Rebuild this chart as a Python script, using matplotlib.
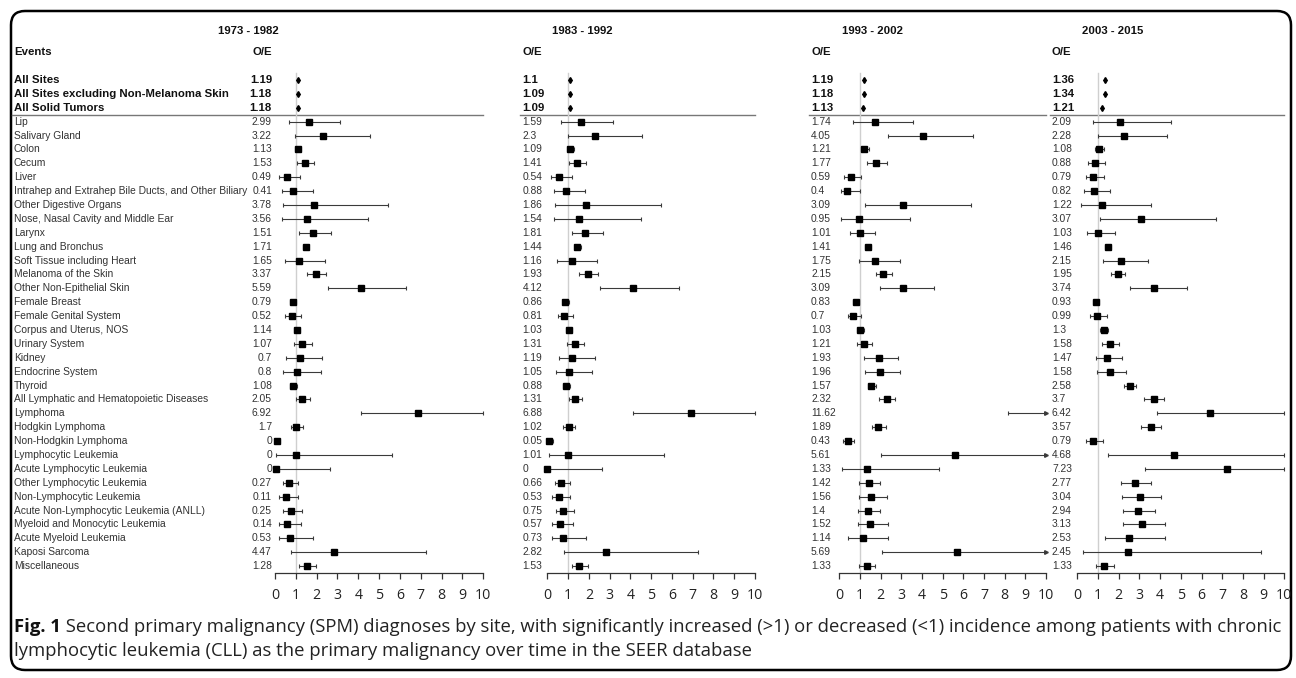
import matplotlib
matplotlib.use("Agg")
import matplotlib.pyplot as plt
from matplotlib.patches import FancyBboxPatch
from matplotlib.transforms import blended_transform_factory
import numpy as np

# ---------------- data ----------------
periods = ["1973 - 1982", "1983 - 1992", "1993 - 2002", "2003 - 2015"]

summary_labels = ["All Sites", "All Sites excluding Non-Melanoma Skin", "All Solid Tumors"]
site_labels = [
    "Lip", "Salivary Gland", "Colon", "Cecum", "Liver",
    "Intrahep and Extrahep Bile Ducts, and Other Biliary", "Other Digestive Organs",
    "Nose, Nasal Cavity and Middle Ear", "Larynx", "Lung and Bronchus",
    "Soft Tissue including Heart", "Melanoma of the Skin", "Other Non-Epithelial Skin",
    "Female Breast", "Female Genital System", "Corpus and Uterus, NOS", "Urinary System",
    "Kidney", "Endocrine System", "Thyroid", "All Lymphatic and Hematopoietic Diseases",
    "Lymphoma", "Hodgkin Lymphoma", "Non-Hodgkin Lymphoma", "Lymphocytic Leukemia",
    "Acute Lymphocytic Leukemia", "Other Lymphocytic Leukemia", "Non-Lymphocytic Leukemia",
    "Acute Non-Lymphocytic Leukemia (ANLL)", "Myeloid and Monocytic Leukemia",
    "Acute Myeloid Leukemia", "Kaposi Sarcoma", "Miscellaneous",
]

# O/E column values (summary rows first, then sites)
oe_1973 = [1.19, 1.18, 1.18, 2.99, 3.22, 1.13, 1.53, 0.49, 0.41, 3.78, 3.56, 1.51, 1.71, 1.65,
           3.37, 5.59, 0.79, 0.52, 1.14, 1.07, 0.7, 0.8, 1.08, 2.05, 6.92, 1.7, 0, 0, 0, 0.27,
           0.11, 0.25, 0.14, 0.53, 4.47, 1.28]
oe_1983 = [1.1, 1.09, 1.09, 1.59, 2.3, 1.09, 1.41, 0.54, 0.88, 1.86, 1.54, 1.81, 1.44, 1.16,
           1.93, 4.12, 0.86, 0.81, 1.03, 1.31, 1.19, 1.05, 0.88, 1.31, 6.88, 1.02, 0.05, 1.01, 0,
           0.66, 0.53, 0.75, 0.57, 0.73, 2.82, 1.53]
oe_1993 = [1.19, 1.18, 1.13, 1.74, 4.05, 1.21, 1.77, 0.59, 0.4, 3.09, 0.95, 1.01, 1.41, 1.75,
           2.15, 3.09, 0.83, 0.7, 1.03, 1.21, 1.93, 1.96, 1.57, 2.32, 11.62, 1.89, 0.43, 5.61,
           1.33, 1.42, 1.56, 1.4, 1.52, 1.14, 5.69, 1.33]
oe_2003 = [1.36, 1.34, 1.21, 2.09, 2.28, 1.08, 0.88, 0.79, 0.82, 1.22, 3.07, 1.03, 1.46, 2.15,
           1.95, 3.74, 0.93, 0.99, 1.3, 1.58, 1.47, 1.58, 2.58, 3.7, 6.42, 3.57, 0.79, 4.68, 7.23,
           2.77, 3.04, 2.94, 3.13, 2.53, 2.45, 1.33]

# plotted summary diamonds
sum_1973 = [1.12, 1.11, 1.12]
sum_1983 = [1.10, 1.09, 1.09]
sum_1993 = [1.19, 1.18, 1.13]
sum_2003 = [1.36, 1.34, 1.21]

# plotted site estimates and confidence limits
est_1973 = [1.62, 2.30, 1.09, 1.42, 0.56, 0.88, 1.87, 1.55, 1.81, 1.47, 1.15, 1.95, 4.14, 0.86,
            0.82, 1.06, 1.30, 1.18, 1.06, 0.88, 1.30, 6.88, 1.02, 0.08, 1.02, 0.03, 0.67, 0.53,
            0.75, 0.58, 0.72, 2.82, 1.55]
lo_1973 = [0.69, 0.98, 0.97, 1.07, 0.18, 0.34, 0.38, 0.34, 1.15, 1.33, 0.50, 1.52, 2.56, 0.72,
           0.50, 0.93, 0.93, 0.51, 0.40, 0.73, 1.02, 4.14, 0.78, 0.0, 0.03, 0.0, 0.37, 0.21,
           0.40, 0.21, 0.19, 0.78, 1.17]
hi_1973 = [3.12, 4.54, 1.27, 1.86, 1.18, 1.81, 5.44, 4.48, 2.69, 1.60, 2.40, 2.43, 6.30, 1.00,
           1.26, 1.21, 1.79, 2.27, 2.19, 1.06, 1.68, 10.0, 1.33, 0.24, 5.63, 2.66, 1.10, 1.10,
           1.28, 1.25, 1.84, 7.23, 1.97]

est_1983 = [1.61, 2.31, 1.08, 1.43, 0.56, 0.90, 1.88, 1.54, 1.82, 1.45, 1.17, 1.94, 4.14, 0.87,
            0.82, 1.06, 1.32, 1.20, 1.06, 0.90, 1.32, 6.90, 1.04, 0.08, 1.01, 0.0, 0.67, 0.56,
            0.76, 0.61, 0.76, 2.83, 1.54]
lo_1983 = [0.67, 1.01, 0.97, 1.04, 0.19, 0.34, 0.39, 0.31, 1.17, 1.31, 0.47, 1.53, 2.54, 0.74,
           0.50, 0.91, 0.96, 0.55, 0.42, 0.74, 1.04, 4.14, 0.77, 0.0, 0.08, 0.0, 0.36, 0.23,
           0.40, 0.23, 0.23, 0.79, 1.20]
hi_1983 = [3.16, 4.57, 1.29, 1.88, 1.19, 1.83, 5.47, 4.53, 2.70, 1.60, 2.41, 2.44, 6.34, 1.03,
           1.25, 1.21, 1.78, 2.30, 2.17, 1.08, 1.66, 10.0, 1.33, 0.29, 5.63, 2.62, 1.09, 1.11,
           1.29, 1.25, 1.86, 7.24, 1.97]

est_1993 = [1.73, 4.06, 1.21, 1.76, 0.58, 0.37, 3.08, 0.94, 1.00, 1.40, 1.74, 2.13, 3.08, 0.80,
            0.68, 1.02, 1.18, 1.91, 1.95, 1.55, 2.29, 11.62, 1.87, 0.41, 5.61, 1.32, 1.42, 1.55,
            1.39, 1.50, 1.13, 5.69, 1.32]
lo_1993 = [0.68, 2.34, 1.05, 1.32, 0.24, 0.08, 1.23, 0.10, 0.52, 1.26, 0.94, 1.79, 1.95, 0.68,
           0.41, 0.86, 0.86, 1.21, 1.23, 1.37, 1.94, 8.18, 1.58, 0.19, 2.03, 0.13, 0.97, 0.97,
           0.90, 0.90, 0.44, 2.07, 0.97]
hi_1993 = [3.57, 6.48, 1.42, 2.29, 1.06, 1.02, 6.39, 3.42, 1.74, 1.55, 2.92, 2.53, 4.60, 0.94,
           1.06, 1.19, 1.58, 2.85, 2.95, 1.77, 2.71, 16.0, 2.24, 0.73, 12.0, 4.82, 1.97, 2.31,
           1.98, 2.34, 2.34, 12.0, 1.74]

est_2003 = [2.06, 2.27, 1.06, 0.87, 0.76, 0.81, 1.19, 3.06, 1.01, 1.48, 2.13, 1.95, 3.72, 0.89,
            0.94, 1.27, 1.56, 1.45, 1.56, 2.56, 3.69, 6.43, 3.58, 0.74, 4.67, 7.25, 2.77, 3.04,
            2.92, 3.13, 2.51, 2.43, 1.30]
lo_2003 = [0.74, 1.01, 0.85, 0.53, 0.43, 0.31, 0.19, 1.10, 0.48, 1.33, 1.24, 1.61, 2.53, 0.76,
           0.60, 1.11, 1.19, 0.92, 0.97, 2.27, 3.24, 3.85, 3.08, 0.43, 1.50, 3.29, 2.10, 2.17,
           2.21, 2.21, 1.35, 0.29, 0.89]
hi_2003 = [4.54, 4.32, 1.29, 1.34, 1.29, 1.58, 3.56, 6.69, 1.81, 1.63, 3.43, 2.32, 5.30, 1.06,
           1.43, 1.49, 2.00, 2.16, 2.35, 2.85, 4.20, 10.0, 4.04, 1.26, 10.0, 10.0, 3.56, 4.04,
           3.77, 4.24, 4.24, 8.86, 1.79]

x_ticks = list(range(0, 11))

caption_bold = "Fig. 1"
caption_line1 = (" Second primary malignancy (SPM) diagnoses by site, with significantly increased "
                 "(>1) or decreased (<1) incidence among patients with chronic")
caption_line2 = "lymphocytic leukemia (CLL) as the primary malignancy over time in the SEER database"

# ---------------- layout ----------------
W, H = 1296, 678
fig = plt.figure(figsize=(W / 100, H / 100), dpi=100)
fig.patch.set_facecolor("white")

overlay = fig.add_axes([0, 0, 1, 1], zorder=0)
overlay.set_xlim(0, W)
overlay.set_ylim(H, 0)
overlay.axis("off")
overlay.patch.set_alpha(0)

x0_px = [275.0, 547.3, 839.3, 1077.3]
x10_px = [483.3, 755.0, 1046.0, 1284.3]
y_top_px, y_bot_px = 66.1, 573.0
n_rows = len(summary_labels) + len(site_labels)
ylim_bottom = 36.5

TXT = "Liberation Sans"
CAP = "Open Sans"
fs_norm = 7.4
fs_bold = 8.2
fs_cap = 13.3

oes = [oe_1973, oe_1983, oe_1993, oe_2003]
sums = [sum_1973, sum_1983, sum_1993, sum_2003]
ests = [est_1973, est_1983, est_1993, est_2003]
los = [lo_1973, lo_1983, lo_1993, lo_2003]
his = [hi_1973, hi_1983, hi_1993, hi_2003]

axes = []
for i in range(4):
    ax = fig.add_axes([x0_px[i] / W, 1 - y_bot_px / H, (x10_px[i] - x0_px[i]) / W,
                       (y_bot_px - y_top_px) / H], zorder=1)
    ax.patch.set_alpha(0)
    ax.set_xlim(0, 10)
    ax.set_ylim(ylim_bottom, 0)
    for s in ["top", "right", "left"]:
        ax.spines[s].set_visible(False)
    ax.spines["bottom"].set_color("#333333")
    ax.spines["bottom"].set_linewidth(0.9)
    ax.set_yticks([])
    ax.set_xticks(x_ticks)
    ax.set_xticklabels([str(t) for t in x_ticks], fontfamily=CAP, fontsize=10.2, color="#222222")
    ax.tick_params(axis="x", direction="out", length=4.5, width=0.9, color="#333333", pad=6.5)
    axes.append(ax)

    # reference line at 1
    ax.plot([1, 1], [0.5, ylim_bottom], color="#cfcfcf", lw=1.0, zorder=0)

    # summary diamonds
    srows = np.arange(1, len(summary_labels) + 1)
    ax.plot(sums[i], srows, linestyle="none", marker="d", ms=3.0, color="black",
            clip_on=False, zorder=3)

    # site rows
    rows = np.arange(len(summary_labels) + 1, n_rows + 1)
    est = np.array(ests[i]); lo = np.array(los[i]); hi = np.array(his[i])
    hi_c = np.minimum(hi, 10)
    ax.hlines(rows, lo, hi_c, color="#3a3a3a", lw=0.8, zorder=2, clip_on=False)
    ax.plot(lo, rows, linestyle="none", marker="|", ms=3.2, mew=0.8, color="#3a3a3a",
            clip_on=False, zorder=2)
    inside = hi <= 10
    ax.plot(hi[inside], rows[inside], linestyle="none", marker="|", ms=3.2, mew=0.8,
            color="#3a3a3a", clip_on=False, zorder=2)
    if (~inside).any():
        ax.plot(hi_c[~inside], rows[~inside], linestyle="none", marker=">", ms=2.6,
                color="#3a3a3a", clip_on=False, zorder=2)
    vis = est <= 10
    ax.plot(est[vis], rows[vis], linestyle="none", marker="s", ms=4.8, color="black",
            clip_on=False, zorder=3)

row_tf = blended_transform_factory(overlay.transData, axes[0].transData)

# header
header_x = [248, 582, 872, 1113]
oe_x = [272, 522.5, 811, 1052]
for i in range(4):
    overlay.text(header_x[i], 31, periods[i], ha="center", va="center", fontfamily=TXT,
                 fontsize=fs_bold, fontweight="bold", color="#111111")
    overlay.text(oe_x[i], 52, "O/E", ha="right" if i == 0 else "left", va="center",
                 fontfamily=TXT, fontsize=fs_bold, fontweight="bold", color="#111111")
overlay.text(14, 52, "Events", ha="left", va="center", fontfamily=TXT, fontsize=fs_bold,
             fontweight="bold", color="#111111")

# row labels
for k, lab in enumerate(summary_labels + site_labels):
    r = k + 1
    bold = k < len(summary_labels)
    overlay.text(14, r, lab, transform=row_tf, ha="left", va="center", fontfamily=TXT,
                 fontsize=fs_bold if bold else fs_norm,
                 fontweight="bold" if bold else "normal",
                 color="#111111" if bold else "#333333")
    for i in range(4):
        overlay.text(oe_x[i], r, f"{oes[i][k]:g}", transform=row_tf,
                     ha="right" if i == 0 else "left", va="center", fontfamily=TXT,
                     fontsize=fs_bold if bold else fs_norm,
                     fontweight="bold" if bold else "normal",
                     color="#111111" if bold else "#333333")

# separator lines below summary rows
sep_start = [12, 520, 809, 1050]
for i in range(4):
    overlay.plot([sep_start[i], x10_px[i]], [3.5, 3.5], transform=row_tf, color="#777777",
                 lw=1.0)

# caption
fig.canvas.draw()
renderer = fig.canvas.get_renderer()
tb = overlay.text(14, 632, caption_bold, ha="left", va="baseline", fontfamily=CAP,
                  fontsize=fs_cap, fontweight="bold", color="#111111")
bb = tb.get_window_extent(renderer=renderer)
overlay.text(14 + bb.width, 632, caption_line1, ha="left", va="baseline", fontfamily=CAP,
             fontsize=fs_cap, color="#222222")
overlay.text(14, 656, caption_line2, ha="left", va="baseline", fontfamily=CAP,
             fontsize=fs_cap, color="#222222")

# frame
frame = FancyBboxPatch((11, 11), 1280, 659, boxstyle="round,pad=0,rounding_size=14",
                       fill=False, ec="black", lw=1.8, clip_on=False)
overlay.add_patch(frame)

fig.savefig("out.png", dpi=100, facecolor="white")
